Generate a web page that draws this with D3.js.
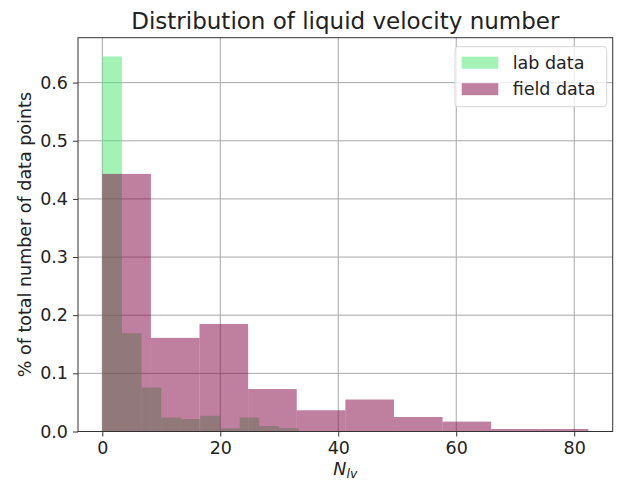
<!DOCTYPE html>
<html>
<head>
<meta charset="utf-8">
<script src="https://cdn.jsdelivr.net/npm/d3@7"></script>
<style>
    body { margin: 0; background: #fff; }
    #plot-canvas { width: 621px; height: 482px; }
    text { font-family: "DejaVu Sans", sans-serif; fill: #222; }
</style>
</head>
<body>
<div id="plot-canvas"></div>
<script>
// bin edges and share of points
const labEdges = [0, 3.33, 6.66, 10.0, 13.3, 16.6, 20.0, 23.3, 26.6, 30.0, 33.3];
const labValues = [0.645, 0.169, 0.0755, 0.024, 0.0215, 0.027, 0.0055, 0.024, 0.0095, 0.006];
const fieldEdges = [0, 8.24, 16.48, 24.72, 32.96, 41.2, 49.44, 57.68, 65.92, 74.16, 82.4];
const fieldValues = [0.443, 0.161, 0.185, 0.073, 0.0365, 0.055, 0.025, 0.017, 0.0043, 0.0043];
const xTicks = [0, 20, 40, 60, 80];
const yTicks = [0, 0.1, 0.2, 0.3, 0.4, 0.5, 0.6];
const seriesNames = ["lab data", "field data"];
const seriesColors = ["#47e76d", "#7f0040"];

const margin = {top: 37.7, right: 8.3, bottom: 50.5, left: 78},
    width = 621 - margin.left - margin.right,
    height = 482 - margin.top - margin.bottom;

const toBins = function (edges, values) {
    return values.map(function (v, i) {
        return {x0: edges[i], x1: edges[i + 1], value: v};
    });
};
const series = [toBins(labEdges, labValues), toBins(fieldEdges, fieldValues)];

const xMax = d3.max([labEdges[labEdges.length - 1], fieldEdges[fieldEdges.length - 1]]);
const yMax = d3.max(labValues.concat(fieldValues));

const x = d3.scaleLinear().domain([-0.05 * xMax, 1.05 * xMax]).range([0, width]);
const y = d3.scaleLinear().domain([0, 1.05 * yMax]).range([height, 0]);

const svg = d3.select("#plot-canvas").append("svg")
    .attr("width", 621)
    .attr("height", 482);
const g = svg.append("g").attr("transform", "translate(" + margin.left + "," + margin.top + ")");

//grid
g.append("g").selectAll("line").data(xTicks).enter().append("line")
    .attr("x1", d => x(d)).attr("x2", d => x(d))
    .attr("y1", 0).attr("y2", height)
    .attr("stroke", "#a8a8a8").attr("stroke-width", 1);
g.append("g").selectAll("line").data(yTicks).enter().append("line")
    .attr("x1", 0).attr("x2", width)
    .attr("y1", d => y(d)).attr("y2", d => y(d))
    .attr("stroke", "#a8a8a8").attr("stroke-width", 1);

//bars
series.forEach(function (bins, i) {
    g.append("g").selectAll("rect").data(bins).enter().append("rect")
        .attr("x", d => x(d.x0))
        .attr("width", d => x(d.x1) - x(d.x0))
        .attr("y", d => y(d.value))
        .attr("height", d => y(0) - y(d.value))
        .attr("fill", seriesColors[i])
        .attr("fill-opacity", 0.5);
});

//axes
const xAxis = d3.axisBottom(x).tickValues(xTicks).tickSize(5).tickPadding(5).tickFormat(d3.format("d"));
const yAxis = d3.axisLeft(y).tickValues(yTicks).tickSize(5).tickPadding(5).tickFormat(d3.format(".1f"));

g.append("g")
    .attr("transform", "translate(0," + height + ")")
    .call(xAxis)
    .call(a => a.select(".domain").remove())
    .call(a => a.selectAll("text").style("font-size", "17.5px").attr("fill", "#222"));
g.append("g")
    .call(yAxis)
    .call(a => a.select(".domain").remove())
    .call(a => a.selectAll("text").style("font-size", "17.5px").attr("fill", "#222"));
g.selectAll(".tick line").attr("stroke", "#333");

g.append("rect")
    .attr("width", width).attr("height", height)
    .attr("fill", "none").attr("stroke", "#333").attr("stroke-width", 1);

//legend
const legend = g.append("g").attr("transform", "translate(" + (width - 157.7) + ",9)");
legend.append("rect")
    .attr("width", 151.7).attr("height", 60).attr("rx", 3)
    .attr("fill", "#fff").attr("fill-opacity", 0.8)
    .attr("stroke", "#d6d6d6");
seriesNames.forEach(function (name, i) {
    legend.append("rect")
        .attr("x", 6.7).attr("y", 10 + i * 26.5)
        .attr("width", 36.6).attr("height", 12)
        .attr("fill", seriesColors[i]).attr("fill-opacity", 0.5);
    legend.append("text")
        .attr("x", 57.7).attr("y", 22 + i * 26.5)
        .style("font-size", "17.5px")
        .text(name);
});

//labels
svg.append("text")
    .attr("x", margin.left + width / 2)
    .attr("y", 29)
    .style("text-anchor", "middle")
    .style("font-size", "23px")
    .text("Distribution of liquid velocity number");

const xLabel = svg.append("text")
    .attr("x", margin.left + width / 2)
    .attr("y", 474.5)
    .style("text-anchor", "middle")
    .style("font-size", "17.5px")
    .style("font-style", "italic");
xLabel.append("tspan").text("N");
xLabel.append("tspan").attr("dy", 3).style("font-size", "12.5px").text("lv");

svg.append("text")
    .attr("transform", "translate(31," + (margin.top + height / 2) + ") rotate(-90)")
    .style("text-anchor", "middle")
    .style("font-size", "17.5px")
    .text("% of total number of data points");
</script>
</body>
</html>
